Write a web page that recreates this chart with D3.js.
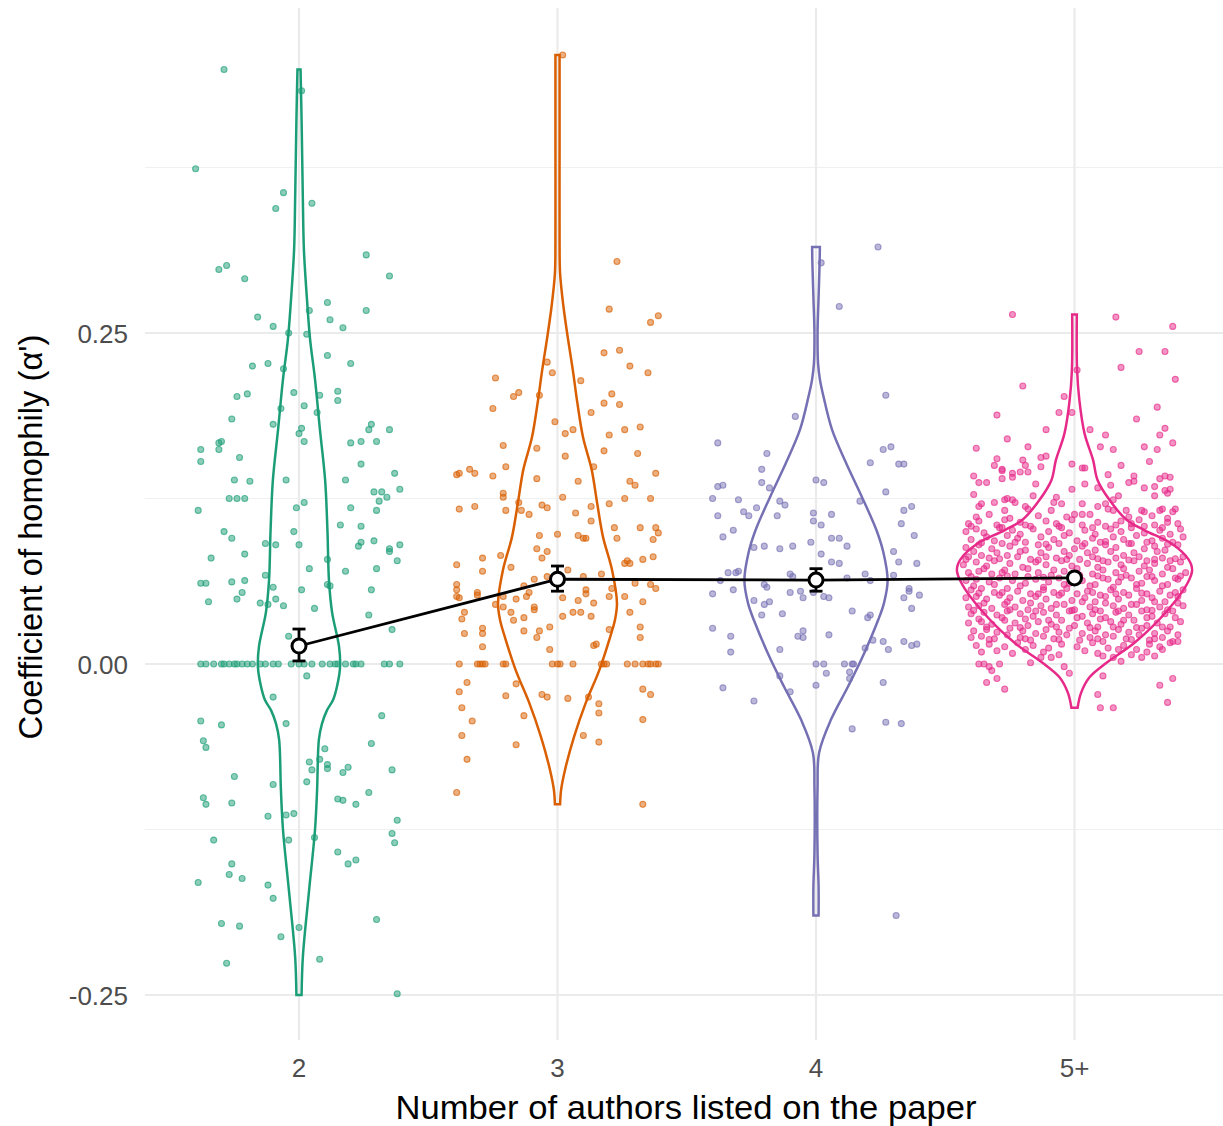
<!DOCTYPE html>
<html>
<head>
<meta charset="utf-8">
<script src="https://cdn.jsdelivr.net/npm/d3@7"></script>
<style>
  body { margin: 0; background: #fff; }
  text { font-family: "Liberation Sans", Arial, Helvetica, sans-serif; }
</style>
</head>
<body>
<svg id="chart" width="1223" height="1126"></svg>
<script>
// categories + palette (Dark2)
var categories = ["2", "3", "4", "5+"];
var colors = ["#1B9E77", "#D95F02", "#7570B3", "#E7298A"];

var yTicks = [-0.25, 0, 0.25];
var yTickLabels = ["-0.25", "0.00", "0.25"];
var yMinor = [-0.125, 0.125, 0.375];

// group means with error bars
var meanValues = [0.0136, 0.064, 0.0634, 0.065];
var ciLow = [0.0023, 0.055, 0.055, 0.062];
var ciHigh = [0.0264, 0.074, 0.072, 0.068];

// jittered points: [jitter (in category steps), value]
var pts2 = [
  [-0.29,0.449],[0.01,0.433],[-0.40,0.374],[-0.06,0.356],[-0.09,0.344],[0.05,0.348],[0.26,0.309],[-0.31,0.298],[-0.28,0.301],[-0.21,0.291],
  [0.35,0.293],[0.11,0.273],[-0.16,0.262],[0.04,0.267],[0.12,0.260],[0.26,0.267],[-0.10,0.255],[0.17,0.254],[-0.04,0.250],[0.03,0.249],
  [0.11,0.233],[0.20,0.227],[-0.18,0.225],[-0.12,0.227],[-0.06,0.223],[-0.24,0.202],[-0.20,0.204],[-0.02,0.205],[0.08,0.203],[0.15,0.206],
  [0.15,0.199],[-0.07,0.193],[0.02,0.195],[0.07,0.190],[-0.26,0.185],[-0.10,0.181],[0.01,0.178],[0.00,0.174],[0.28,0.181],[0.27,0.177],
  [0.35,0.177],[0.02,0.168],[0.20,0.167],[0.24,0.168],[0.30,0.168],[-0.38,0.162],[-0.31,0.167],[-0.30,0.168],[-0.31,0.162],[-0.38,0.153],
  [-0.23,0.156],[0.24,0.151],[0.37,0.144],[-0.25,0.139],[-0.19,0.138],[-0.05,0.139],[0.18,0.139],[0.39,0.132],[0.29,0.130],[0.32,0.130],
  [0.34,0.126],[0.31,0.123],[-0.27,0.125],[-0.24,0.125],[-0.21,0.125],[-0.39,0.116],[-0.01,0.118],[0.02,0.122],[0.20,0.118],[0.30,0.116],
  [0.16,0.105],[0.24,0.104],[-0.29,0.100],[-0.26,0.095],[-0.02,0.100],[-0.13,0.091],[-0.09,0.090],[0.00,0.090],[0.24,0.092],[0.23,0.089],
  [0.29,0.093],[0.35,0.087],[0.35,0.085],[0.39,0.090],[-0.34,0.080],[-0.21,0.083],[0.38,0.078],[0.11,0.079],[0.04,0.072],[0.18,0.070],
  [0.30,0.072],[-0.13,0.067],[-0.38,0.061],[-0.36,0.061],[-0.26,0.062],[-0.21,0.063],[-0.10,0.058],[0.11,0.060],[0.12,0.059],[-0.22,0.054],
  [-0.24,0.049],[0.01,0.056],[0.28,0.056],[-0.35,0.047],[-0.15,0.046],[-0.12,0.045],[-0.09,0.049],[-0.06,0.044],[0.06,0.042],[0.27,0.037],
  [0.36,0.026],[-0.04,0.021],
  [-0.38,0],[-0.36,0],[-0.33,0],[-0.30,0],[-0.29,0],[-0.27,0],[-0.25,0],[-0.24,0],[-0.22,0],[-0.20,0],
  [-0.18,0],[-0.15,0],[-0.13,0],[-0.10,0],[-0.08,0],[-0.03,0],[0.00,0],[0.02,0],[0.05,0],[0.09,0],
  [0.12,0],[0.14,0],[0.15,0],[0.18,0],[0.21,0],[0.22,0],[0.24,0],[0.33,0],[0.35,0],[0.39,0],
  [0.03,-0.009],[-0.10,-0.025],[-0.38,-0.043],[-0.30,-0.046],[-0.05,-0.045],[0.32,-0.039],[-0.37,-0.058],[-0.36,-0.063],[0.28,-0.060],[0.10,-0.064],
  [0.04,-0.074],[0.08,-0.072],[0.11,-0.076],[0.05,-0.080],[0.11,-0.079],[0.19,-0.078],[0.17,-0.082],[0.36,-0.080],[-0.25,-0.085],[-0.10,-0.091],
  [0.03,-0.089],[-0.37,-0.101],[-0.36,-0.106],[-0.26,-0.105],[0.15,-0.102],[0.17,-0.103],[0.27,-0.097],[0.22,-0.106],[-0.12,-0.115],[-0.05,-0.114],
  [-0.02,-0.113],[0.38,-0.118],[-0.33,-0.133],[-0.04,-0.133],[0.06,-0.131],[0.36,-0.128],[0.37,-0.135],[0.15,-0.142],[-0.26,-0.151],[0.19,-0.151],
  [0.22,-0.148],[-0.27,-0.159],[-0.22,-0.162],[-0.39,-0.165],[-0.12,-0.167],[-0.10,-0.177],[-0.30,-0.196],[-0.23,-0.198],[0.30,-0.193],[0.00,-0.199],
  [-0.07,-0.206],[-0.28,-0.226],[0.08,-0.223],[0.38,-0.249]
];

var pts3 = [
  [0.02,0.460],[0.23,0.304],[0.20,0.268],[0.36,0.258],[0.39,0.263],[0.18,0.235],[0.24,0.237],[0.28,0.225],[0.35,0.220],[-0.04,0.228],
  [-0.02,0.220],[-0.24,0.216],[0.09,0.214],[-0.17,0.202],[-0.15,0.205],[-0.07,0.203],[0.18,0.197],[0.21,0.204],[0.24,0.196],[-0.25,0.193],
  [0.13,0.190],[-0.01,0.183],[0.03,0.174],[0.06,0.177],[0.20,0.173],[0.26,0.177],[0.32,0.179],[-0.21,0.165],[-0.08,0.163],[0.03,0.157],
  [0.18,0.161],[0.31,0.159],[0.14,0.149],[-0.39,0.143],[-0.38,0.144],[-0.34,0.147],[-0.32,0.144],[-0.25,0.142],[-0.20,0.149],[-0.08,0.140],
  [0.08,0.138],[0.28,0.138],[0.30,0.135],[0.38,0.144],[-0.21,0.129],[-0.21,0.126],[0.02,0.126],[0.26,0.125],[0.36,0.125],[-0.38,0.117],
  [-0.32,0.119],[-0.15,0.122],[-0.14,0.116],[-0.20,0.116],[-0.11,0.113],[-0.06,0.120],[-0.04,0.118],[0.07,0.114],[0.13,0.119],[0.20,0.121],
  [0.13,0.108],[0.00,0.098],[-0.07,0.097],[0.08,0.097],[0.10,0.095],[0.11,0.095],[0.22,0.103],[0.23,0.095],[0.32,0.103],[0.38,0.103],
  [0.39,0.099],[0.37,0.094],[-0.08,0.087],[-0.04,0.085],[-0.06,0.080],[-0.22,0.082],[-0.29,0.080],[-0.39,0.075],[-0.29,0.070],[-0.18,0.073],
  [0.26,0.076],[0.27,0.078],[0.28,0.076],[0.33,0.079],[0.37,0.081],[0.04,0.071],[0.17,0.068],[0.10,0.066],[-0.04,0.066],[-0.09,0.064],
  [-0.39,0.060],[-0.39,0.056],[-0.39,0.051],[-0.38,0.050],[-0.31,0.054],[-0.31,0.052],[-0.13,0.059],[-0.11,0.054],[-0.12,0.051],[-0.21,0.051],
  [-0.24,0.045],[-0.21,0.043],[-0.16,0.049],[0.02,0.050],[0.08,0.048],[0.11,0.056],[0.11,0.053],[0.14,0.046],[0.20,0.051],[0.21,0.057],
  [0.26,0.051],[0.30,0.061],[0.36,0.060],[0.38,0.057],[0.33,0.047],[-0.36,0.039],[-0.37,0.034],[-0.18,0.039],[-0.17,0.033],[-0.09,0.043],
  [-0.09,0.041],[-0.13,0.035],[0.02,0.036],[0.06,0.039],[0.09,0.039],[0.13,0.036],[0.28,0.039],[-0.36,0.023],[-0.29,0.027],[-0.29,0.023],
  [-0.29,0.013],[-0.13,0.025],[-0.07,0.025],[-0.08,0.020],[-0.03,0.028],[-0.03,0.011],[0.20,0.026],[0.32,0.028],[0.32,0.020],[0.14,0.014],
  [0.15,0.015],
  [-0.38,0],[-0.31,0],[-0.30,0],[-0.29,0],[-0.28,0],[-0.21,0],[-0.20,0],[-0.02,0],[0.00,0],[0.01,0],
  [0.06,0],[0.17,0],[0.18,0],[0.19,0],[0.27,0],[0.30,0],[0.33,0],[0.35,0],[0.36,0],[0.38,0],[0.39,0],
  [-0.35,-0.014],[-0.38,-0.021],[-0.16,-0.015],[-0.20,-0.024],[-0.06,-0.023],[-0.04,-0.025],[0.04,-0.026],[0.12,-0.025],[0.16,-0.030],[0.16,-0.037],
  [0.33,-0.019],[0.36,-0.023],[0.33,-0.042],[-0.37,-0.033],[-0.33,-0.043],[-0.13,-0.039],[-0.37,-0.054],[0.10,-0.054],[0.16,-0.059],[-0.16,-0.061],
  [-0.35,-0.072],[-0.39,-0.097],[0.33,-0.106]
];

var pts4 = [
  [0.24,0.315],[0.02,0.303],[0.09,0.270],[0.27,0.203],[-0.08,0.187],[-0.38,0.167],[-0.19,0.159],[0.26,0.162],[0.29,0.164],[-0.21,0.147],
  [0.21,0.152],[0.32,0.151],[0.34,0.151],[-0.38,0.134],[-0.36,0.135],[-0.21,0.137],[-0.18,0.133],[0.00,0.139],[0.03,0.137],[-0.40,0.125],
  [-0.30,0.124],[-0.14,0.123],[-0.12,0.120],[0.17,0.123],[0.27,0.130],[-0.28,0.115],[-0.26,0.112],[-0.23,0.118],[-0.38,0.112],[-0.15,0.112],
  [-0.01,0.114],[-0.01,0.108],[0.02,0.105],[0.06,0.113],[0.34,0.116],[0.37,0.119],[0.33,0.106],[-0.32,0.101],[-0.36,0.096],[-0.24,0.088],
  [-0.20,0.089],[-0.14,0.087],[-0.09,0.089],[-0.02,0.092],[0.06,0.095],[0.09,0.095],[0.12,0.089],[0.38,0.097],[0.02,0.083],[0.06,0.077],
  [0.09,0.076],[0.30,0.085],[0.32,0.077],[0.39,0.076],[-0.34,0.069],[-0.31,0.069],[-0.30,0.070],[-0.37,0.063],[-0.10,0.068],[-0.09,0.066],
  [0.12,0.065],[0.19,0.068],[0.21,0.063],[0.30,0.067],[-0.40,0.053],[-0.32,0.056],[-0.20,0.060],[-0.19,0.058],[-0.10,0.054],[-0.06,0.055],
  [-0.05,0.050],[-0.01,0.054],[0.03,0.051],[0.05,0.050],[0.36,0.057],[0.36,0.055],[0.34,0.050],[0.40,0.052],[-0.24,0.048],[-0.20,0.045],
  [-0.18,0.047],[-0.21,0.037],[-0.13,0.038],[0.14,0.040],[0.20,0.035],[0.21,0.037],[0.37,0.042],[-0.40,0.027],[-0.33,0.021],[-0.07,0.021],
  [-0.05,0.025],[-0.05,0.020],[0.05,0.022],[0.19,0.012],[0.22,0.018],[0.26,0.017],[0.28,0.011],[0.34,0.017],[0.37,0.014],[0.39,0.015],
  [-0.33,0.009],[-0.14,0.011],
  [0.00,0],[0.03,0],[0.11,0],[0.14,0],[0.145,0],
  [0.04,-0.007],[0.13,-0.006],[0.13,-0.011],[-0.14,-0.009],[0.00,-0.016],[0.26,-0.014],[-0.36,-0.018],[-0.10,-0.021],[-0.24,-0.028],[0.27,-0.044],
  [0.33,-0.045],[0.14,-0.049],[0.31,-0.190]
];

var pts5 = [
  // sparse upper tail
  [-0.24,0.264],[0.16,0.262],[0.38,0.255],[0.25,0.236],[0.35,0.236],[0.01,0.222],[0.18,0.224],[0.39,0.215],[-0.20,0.210],[-0.04,0.202],
  [-0.30,0.188],[-0.06,0.190],[-0.01,0.190],[0.32,0.194],[0.24,0.185],[-0.11,0.177],[0.06,0.177],[0.35,0.178],[0.12,0.173],[0.33,0.173],
  [-0.38,0.163],[-0.26,0.170],[-0.18,0.164],[0.10,0.164],[0.15,0.162],[0.27,0.164],[0.32,0.162],[0.38,0.167],[-0.30,0.155],[-0.20,0.154],
  [-0.13,0.156],[-0.11,0.157],[-0.01,0.151],[0.29,0.153],[-0.31,0.150],[-0.28,0.147],[-0.19,0.150],[-0.13,0.149],[0.03,0.148],[0.04,0.148],
  [0.18,0.150],[-0.39,0.142],[-0.28,0.146],[-0.24,0.144],[-0.21,0.145],[-0.18,0.145],[-0.28,0.140],[-0.24,0.141],[0.13,0.143],[0.23,0.142],
  [0.35,0.142],[0.37,0.141],[-0.37,0.137],[-0.34,0.137],[-0.15,0.136],[0.04,0.136],[0.14,0.135],[0.21,0.137],[0.23,0.138],[0.27,0.133],
  [0.31,0.134],[0.33,0.140],[-0.39,0.128],[-0.16,0.127],[-0.01,0.132],[0.09,0.133],[0.31,0.127],[0.35,0.131],[0.37,0.132],[0.36,0.129],
  [-0.36,0.121],[-0.37,0.119],[-0.31,0.122],[-0.27,0.124],[-0.26,0.125],[-0.24,0.124],[-0.23,0.122],[-0.19,0.119],[-0.18,0.117],[-0.27,0.116],
  [-0.09,0.116],[-0.07,0.126],[-0.08,0.122],[-0.05,0.121],[0.03,0.121],[0.00,0.113],[0.03,0.113],[0.09,0.119],[0.12,0.121],[0.15,0.124],
  [0.17,0.127],[0.13,0.117],[0.15,0.116],[0.20,0.116],[0.26,0.116],[0.27,0.115],[0.33,0.116],[0.34,0.117],[0.39,0.117],[0.38,0.115],
  // dense core
  [-0.38,0.111],[-0.33,0.113],[-0.25,0.110],[-0.14,0.112],[-0.03,0.111],[0.06,0.113],[0.21,0.111],[0.30,0.112],[0.36,0.110],
  [-0.41,0.106],[-0.37,0.108],[-0.30,0.105],[-0.27,0.109],[-0.21,0.107],[-0.17,0.104],[-0.11,0.108],[-0.07,0.106],[-0.01,0.109],[0.03,0.105],
  [0.09,0.107],[0.12,0.104],[0.18,0.108],[0.22,0.106],[0.25,0.109],[0.31,0.105],[0.36,0.107],[0.40,0.106],
  [-0.40,0.104],[-0.28,0.103],[-0.19,0.105],[-0.06,0.104],[0.07,0.103],[0.16,0.105],[0.27,0.104],[0.34,0.103],
  [-0.42,0.100],[-0.38,0.102],[-0.35,0.099],[-0.29,0.103],[-0.24,0.101],[-0.21,0.098],[-0.16,0.102],[-0.10,0.100],[-0.05,0.103],[-0.02,0.099],
  [0.04,0.101],[0.08,0.098],[0.14,0.102],[0.18,0.100],[0.22,0.103],[0.27,0.099],[0.33,0.101],[0.37,0.098],[0.41,0.102],
  [-0.40,0.094],[-0.34,0.096],[-0.31,0.093],[-0.26,0.097],[-0.22,0.095],[-0.19,0.092],[-0.13,0.096],[-0.08,0.094],[-0.04,0.097],[0.01,0.093],
  [0.07,0.095],[0.10,0.092],[0.15,0.096],[0.19,0.094],[0.24,0.097],[0.30,0.093],[0.34,0.095],[0.38,0.092],[0.42,0.096],
  [-0.36,0.0915],[-0.23,0.092],[-0.11,0.0905],[0.04,0.091],[0.12,0.0925],[0.22,0.091],[0.28,0.092],[0.36,0.0905],
  [-0.42,0.088],[-0.37,0.090],[-0.32,0.087],[-0.28,0.091],[-0.25,0.089],[-0.19,0.086],[-0.14,0.090],[-0.10,0.088],[-0.06,0.091],[0.00,0.087],
  [0.03,0.089],[0.08,0.086],[0.12,0.090],[0.16,0.088],[0.21,0.091],[0.27,0.087],[0.31,0.089],[0.35,0.086],[0.40,0.090],
  [-0.39,0.085],[-0.30,0.084],[-0.21,0.085],[-0.13,0.084],[-0.04,0.085],[0.05,0.084],[0.14,0.085],[0.23,0.084],[0.32,0.085],
  [-0.41,0.081],[-0.36,0.082],[-0.33,0.080],[-0.26,0.082],[-0.22,0.081],[-0.17,0.079],[-0.11,0.081],[-0.07,0.080],[-0.02,0.082],[0.02,0.079],
  [0.07,0.081],[0.11,0.078],[0.16,0.080],[0.19,0.082],[0.25,0.081],[0.28,0.078],[0.34,0.080],[0.37,0.078],[0.42,0.081],
  [-0.42,0.079],[-0.29,0.0795],[-0.14,0.0785],[-0.03,0.079],[0.09,0.0795],[0.21,0.0785],[0.31,0.079],[0.39,0.0795],
  [-0.43,0.075],[-0.38,0.077],[-0.34,0.074],[-0.31,0.078],[-0.25,0.076],[-0.20,0.073],[-0.15,0.077],[-0.11,0.075],[-0.05,0.078],[-0.01,0.074],
  [0.05,0.076],[0.09,0.073],[0.13,0.077],[0.18,0.075],[0.23,0.078],[0.27,0.074],[0.31,0.076],[0.36,0.073],[0.41,0.077],
  [-0.35,0.072],[-0.27,0.071],[-0.18,0.072],[-0.08,0.071],[0.01,0.072],[0.11,0.071],[0.19,0.072],[0.29,0.071],[0.38,0.072],
  [-0.41,0.069],[-0.37,0.070],[-0.32,0.068],[-0.28,0.069],[-0.23,0.068],[-0.18,0.066],[-0.14,0.069],[-0.09,0.067],[-0.04,0.070],[0.02,0.067],
  [0.07,0.068],[0.11,0.065],[0.16,0.069],[0.20,0.067],[0.25,0.070],[0.30,0.066],[0.34,0.068],[0.39,0.065],[0.43,0.069],
  [-0.40,0.066],[-0.26,0.0665],[-0.12,0.0655],[0.00,0.066],[0.09,0.0665],[0.18,0.0655],[0.28,0.066],[0.41,0.0665],
  [-0.42,0.063],[-0.38,0.064],[-0.33,0.062],[-0.29,0.065],[-0.24,0.063],[-0.19,0.061],[-0.15,0.064],[-0.10,0.062],[-0.06,0.065],[-0.02,0.061],
  [0.03,0.063],[0.08,0.060],[0.13,0.064],[0.17,0.062],[0.22,0.065],[0.26,0.061],[0.31,0.063],[0.36,0.060],[0.40,0.064],
  [-0.39,0.059],[-0.31,0.060],[-0.21,0.059],[-0.12,0.058],[-0.04,0.060],[0.06,0.059],[0.15,0.058],[0.24,0.060],[0.34,0.059],
  [-0.40,0.056],[-0.36,0.057],[-0.31,0.054],[-0.26,0.057],[-0.22,0.055],[-0.17,0.053],[-0.12,0.056],[-0.08,0.054],[-0.03,0.057],[0.01,0.053],
  [0.05,0.055],[0.10,0.052],[0.14,0.056],[0.19,0.054],[0.24,0.057],[0.28,0.053],[0.33,0.055],[0.37,0.052],[0.42,0.056],
  [-0.37,0.0535],[-0.28,0.054],[-0.14,0.053],[-0.05,0.0535],[0.07,0.054],[0.16,0.053],[0.26,0.0535],[0.39,0.054],
  [-0.42,0.050],[-0.38,0.051],[-0.34,0.049],[-0.29,0.052],[-0.25,0.050],[-0.20,0.048],[-0.15,0.051],[-0.11,0.049],[-0.06,0.052],[-0.01,0.048],
  [0.04,0.050],[0.08,0.047],[0.12,0.051],[0.17,0.049],[0.21,0.052],[0.26,0.048],[0.30,0.050],[0.35,0.047],[0.40,0.051],
  [-0.35,0.046],[-0.26,0.047],[-0.17,0.046],[-0.07,0.045],[0.03,0.047],[0.12,0.046],[0.22,0.045],[0.31,0.047],[0.40,0.046],
  [-0.41,0.043],[-0.37,0.044],[-0.32,0.042],[-0.27,0.045],[-0.23,0.043],[-0.18,0.041],[-0.13,0.044],[-0.09,0.042],[-0.04,0.045],[0.00,0.041],
  [0.06,0.043],[0.10,0.040],[0.15,0.044],[0.19,0.042],[0.24,0.045],[0.28,0.041],[0.33,0.043],[0.38,0.040],[0.42,0.044],
  [-0.39,0.0405],[-0.25,0.041],[-0.15,0.040],[-0.01,0.0405],[0.08,0.041],[0.17,0.040],[0.30,0.0405],[0.36,0.041],
  [-0.40,0.038],[-0.35,0.039],[-0.30,0.037],[-0.26,0.040],[-0.21,0.038],[-0.16,0.036],[-0.12,0.039],[-0.07,0.037],[-0.02,0.040],[0.03,0.036],
  [0.07,0.038],[0.12,0.035],[0.16,0.039],[0.21,0.037],[0.26,0.040],[0.30,0.036],[0.35,0.038],[0.39,0.035],
  [-0.37,0.034],[-0.28,0.035],[-0.19,0.034],[-0.10,0.033],[0.01,0.035],[0.10,0.034],[0.19,0.033],[0.28,0.035],
  [-0.41,0.031],[-0.36,0.032],[-0.32,0.030],[-0.27,0.033],[-0.23,0.031],[-0.18,0.029],[-0.14,0.032],[-0.09,0.030],[-0.05,0.033],[0.00,0.029],
  [0.05,0.031],[0.09,0.028],[0.14,0.032],[0.18,0.030],[0.23,0.033],[0.28,0.029],[0.32,0.031],[0.37,0.028],[0.41,0.032],
  [-0.34,0.028],[-0.21,0.0275],[-0.07,0.028],[0.06,0.0275],[0.15,0.028],[0.24,0.0275],[0.34,0.028],
  [-0.39,0.025],[-0.34,0.026],[-0.30,0.024],[-0.25,0.027],[-0.20,0.025],[-0.15,0.023],[-0.11,0.026],[-0.06,0.024],[-0.02,0.027],[0.03,0.023],
  [0.08,0.025],[0.12,0.022],[0.17,0.026],[0.21,0.024],[0.26,0.027],[0.31,0.023],[0.36,0.025],[0.40,0.022],
  [-0.40,0.020],[-0.36,0.021],[-0.31,0.019],[-0.26,0.022],[-0.21,0.020],[-0.17,0.018],[-0.12,0.021],[-0.08,0.019],[-0.03,0.022],[0.02,0.018],
  [0.06,0.020],[0.11,0.017],[0.15,0.021],[0.20,0.019],[0.25,0.022],[0.29,0.018],[0.34,0.020],[0.38,0.017],
  [-0.33,0.0185],[-0.19,0.019],[-0.06,0.0185],[0.09,0.019],[0.22,0.0185],[0.31,0.019],
  [-0.38,0.014],[-0.33,0.015],[-0.27,0.013],[-0.22,0.016],[-0.16,0.014],[-0.10,0.012],[-0.05,0.015],[0.01,0.013],[0.07,0.016],[0.13,0.012],
  [0.19,0.014],[0.24,0.011],[0.29,0.015],[0.33,0.013],
  [-0.36,0.009],[-0.30,0.010],[-0.24,0.008],[-0.19,0.011],[-0.12,0.009],[-0.06,0.007],[0.04,0.010],[0.09,0.008],[0.17,0.011],[0.22,0.007],
  [0.28,0.009],[0.31,0.006],
  // lower tail
  [-0.37,0.000],[-0.35,0.000],[-0.33,-0.002],[-0.32,-0.005],[-0.29,0.000],[-0.17,0.001],[-0.13,0.005],[-0.09,0.005],[0.11,0.006],[0.15,0.005],
  [0.18,0.002],[0.26,0.005],[0.34,0.011],[0.37,0.016],[0.40,0.017],[-0.04,-0.002],[-0.02,-0.007],[0.11,-0.009],[-0.34,-0.014],[-0.30,-0.011],
  [-0.27,-0.019],[0.09,-0.023],[0.10,-0.033],[0.15,-0.033],[0.33,-0.016],[0.38,-0.011],[0.36,-0.029]
];

// violin outlines: [value, half width (in category steps)]
var violin2 = [
  [0.449,0.006],[0.411,0.010],[0.350,0.015],[0.313,0.019],[0.275,0.031],[0.245,0.043],[0.215,0.062],[0.177,0.081],
  [0.139,0.101],[0.101,0.110],[0.063,0.116],[0.039,0.128],[0.013,0.155],[-0.002,0.159],[-0.017,0.147],[-0.027,0.132],
  [-0.035,0.108],[-0.045,0.089],[-0.057,0.077],[-0.095,0.070],[-0.125,0.062],[-0.171,0.039],[-0.221,0.015],[-0.250,0.010]
];
var violin3 = [
  [0.460,0.008],[0.388,0.008],[0.320,0.008],[0.295,0.010],[0.270,0.023],[0.245,0.041],[0.221,0.060],[0.197,0.077],
  [0.171,0.099],[0.147,0.132],[0.122,0.153],[0.096,0.176],[0.071,0.211],[0.046,0.230],[0.033,0.222],[0.020,0.203],
  [-0.005,0.161],[-0.029,0.110],[-0.055,0.064],[-0.080,0.029],[-0.095,0.014],[-0.106,0.010]
];
var violin4 = [
  [0.315,0.015],[0.303,0.014],[0.277,0.010],[0.250,0.006],[0.227,0.008],[0.215,0.015],[0.202,0.029],[0.177,0.062],
  [0.152,0.116],[0.126,0.178],[0.101,0.234],[0.084,0.261],[0.063,0.277],[0.046,0.263],[0.033,0.240],[0.008,0.186],
  [-0.017,0.124],[-0.042,0.058],[-0.067,0.012],[-0.093,0.006],[-0.143,0.006],[-0.168,0.010],[-0.190,0.010]
];
var violin5 = [
  [0.264,0.009],[0.222,0.010],[0.199,0.019],[0.174,0.039],[0.154,0.072],[0.139,0.089],[0.124,0.135],[0.109,0.201],
  [0.101,0.271],[0.091,0.375],[0.079,0.441],[0.071,0.455],[0.061,0.437],[0.041,0.362],[0.016,0.232],[0.001,0.124],
  [-0.010,0.058],[-0.022,0.025],[-0.033,0.012]
];

var points = [pts2, pts3, pts4, pts5];
var violins = [violin2, violin3, violin4, violin5];

var svg = d3.select("#chart");
var panel = {left: 145, right: 1223, top: 8, bottom: 1040};

var x = d3.scalePoint().domain(categories).range([299, 1074.5]);
var y = d3.scaleLinear().domain([-0.25, 0.25]).range([995, 333]);
var step = x.step();

// grid
var grid = svg.append("g");
grid.selectAll("line.minor").data(yMinor).enter().append("line")
  .attr("x1", panel.left).attr("x2", panel.right)
  .attr("y1", function(d) { return y(d); }).attr("y2", function(d) { return y(d); })
  .attr("stroke", "#f0f0f0").attr("stroke-width", 1.2);
grid.selectAll("line.major").data(yTicks).enter().append("line")
  .attr("x1", panel.left).attr("x2", panel.right)
  .attr("y1", function(d) { return y(d); }).attr("y2", function(d) { return y(d); })
  .attr("stroke", "#ebebeb").attr("stroke-width", 2.2);
grid.selectAll("line.vert").data(categories).enter().append("line")
  .attr("x1", function(d) { return x(d); }).attr("x2", function(d) { return x(d); })
  .attr("y1", panel.top).attr("y2", panel.bottom)
  .attr("stroke", "#ebebeb").attr("stroke-width", 2.2);

// jittered points
categories.forEach(function(cat, i) {
  svg.append("g").selectAll("circle").data(points[i]).enter().append("circle")
    .attr("cx", function(d) { return x(cat) + d[0] * step; })
    .attr("cy", function(d) { return y(d[1]); })
    .attr("r", 3)
    .attr("fill", colors[i]).attr("fill-opacity", 0.5)
    .attr("stroke", colors[i]).attr("stroke-opacity", 0.65).attr("stroke-width", 1.1);
});

// violins
categories.forEach(function(cat, i) {
  var area = d3.area()
    .y(function(d) { return y(d[0]); })
    .x0(function(d) { return x(cat) - d[1] * step; })
    .x1(function(d) { return x(cat) + d[1] * step; })
    .curve(d3.curveCatmullRom);
  svg.append("path").datum(violins[i])
    .attr("d", area)
    .attr("fill", "none").attr("stroke", colors[i]).attr("stroke-width", 2.5);
});

// mean line
var line = d3.line()
  .x(function(d, i) { return x(categories[i]); })
  .y(function(d) { return y(d); });
svg.append("path").datum(meanValues)
  .attr("d", line).attr("fill", "none").attr("stroke", "#000").attr("stroke-width", 2.8);

// error bars
var eb = svg.append("g").attr("stroke", "#000").attr("stroke-width", 2.8).attr("fill", "none");
categories.forEach(function(cat, i) {
  var cx = x(cat);
  eb.append("line").attr("x1", cx).attr("x2", cx).attr("y1", y(ciLow[i])).attr("y2", y(ciHigh[i]));
  eb.append("line").attr("x1", cx - 6.5).attr("x2", cx + 6.5).attr("y1", y(ciLow[i])).attr("y2", y(ciLow[i]));
  eb.append("line").attr("x1", cx - 6.5).attr("x2", cx + 6.5).attr("y1", y(ciHigh[i])).attr("y2", y(ciHigh[i]));
});

// mean markers
svg.append("g").selectAll("circle").data(meanValues).enter().append("circle")
  .attr("cx", function(d, i) { return x(categories[i]); })
  .attr("cy", function(d) { return y(d); })
  .attr("r", 7)
  .attr("fill", "#fff").attr("stroke", "#000").attr("stroke-width", 3);

// axis labels
svg.append("g").selectAll("text").data(yTicks).enter().append("text")
  .attr("x", 128).attr("y", function(d) { return y(d) + 10; })
  .attr("text-anchor", "end").attr("fill", "#4d4d4d").style("font-size", "26px")
  .text(function(d, i) { return yTickLabels[i]; });

svg.append("g").selectAll("text").data(categories).enter().append("text")
  .attr("x", function(d) { return x(d); }).attr("y", 1077)
  .attr("text-anchor", "middle").attr("fill", "#4d4d4d").style("font-size", "26px")
  .text(function(d) { return d; });

svg.append("text")
  .attr("x", 686).attr("y", 1119)
  .attr("text-anchor", "middle").attr("fill", "#000").style("font-size", "34px")
  .attr("textLength", 581).attr("lengthAdjust", "spacingAndGlyphs")
  .text("Number of authors listed on the paper");

svg.append("text")
  .attr("transform", "translate(42,537) rotate(-90)")
  .attr("text-anchor", "middle").attr("fill", "#000").style("font-size", "34px")
  .attr("textLength", 405).attr("lengthAdjust", "spacingAndGlyphs")
  .text("Coefficient of homophily (\u03b1')");
</script>
</body>
</html>
